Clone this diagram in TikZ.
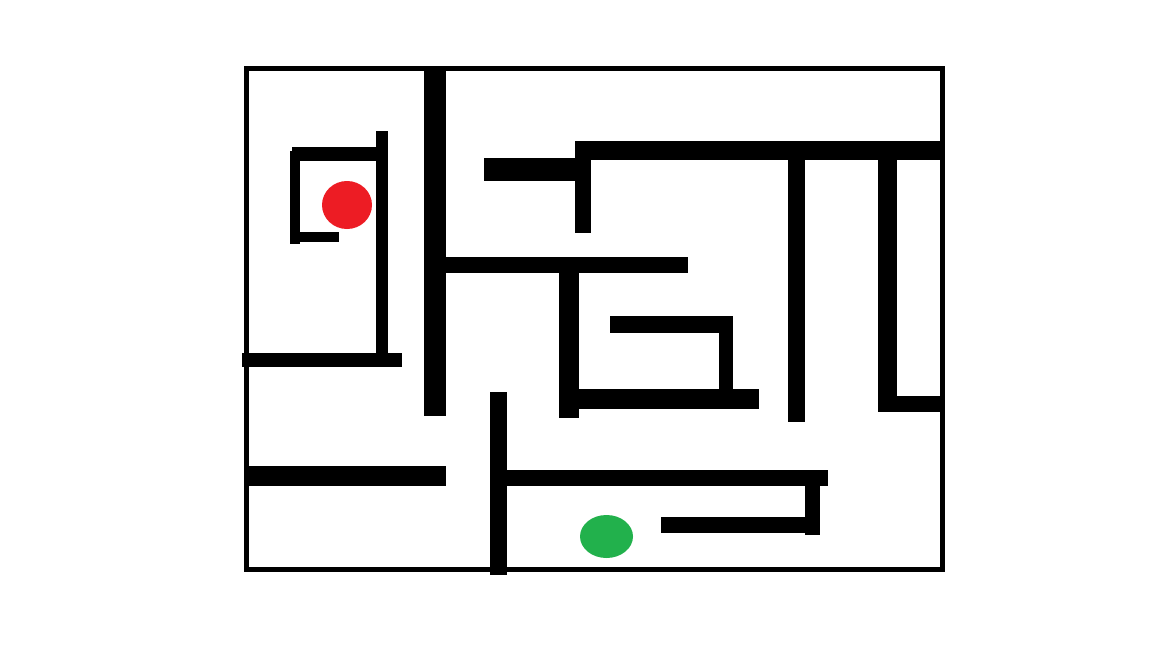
\documentclass[tikz,border=0pt]{standalone}
\definecolor{mazered}{HTML}{ED1C24}
\definecolor{mazegreen}{HTML}{22B14C}
\begin{document}
\begin{tikzpicture}[x=1pt,y=-1pt,
  wall/.style={fill=black,draw=none},
  frame/.style={draw=black,line width=5pt},
  startdot/.style={fill=mazered,draw=none},
  goaldot/.style={fill=mazegreen,draw=none}]
\useasboundingbox[fill=white] (0,0) rectangle (1152,648);
% outer frame
\draw[frame] (246.5,68.5) rectangle (942.5,569.5);
% left region
\fill[wall] (424,68) rectangle (446,416);
\fill[wall] (376,131) rectangle (388,360);
\fill[wall] (292,147) rectangle (380,161);
\fill[wall] (290,151) rectangle (300,244);
\fill[wall] (300,232) rectangle (339,242);
\fill[wall] (242,353) rectangle (402,367);
\fill[wall] (246,466) rectangle (446,486);
% middle top
\fill[wall] (578,141) rectangle (942,160);
\fill[wall] (484,158) rectangle (580,181);
\fill[wall] (575,141) rectangle (591,233);
\fill[wall] (446,257) rectangle (688,273);
\fill[wall] (559,265) rectangle (579,418);
\fill[wall] (579,389) rectangle (759,409);
\fill[wall] (610,316) rectangle (733,333);
\fill[wall] (719,316) rectangle (733,392);
% right
\fill[wall] (788,155) rectangle (805,422);
\fill[wall] (878,155) rectangle (897,411);
\fill[wall] (878,396) rectangle (942,412);
% bottom
\fill[wall] (490,392) rectangle (507,575);
\fill[wall] (507,470) rectangle (828,486);
\fill[wall] (805,480) rectangle (820,535);
\fill[wall] (661,517) rectangle (815,533);
% dots
\fill[startdot] (347,205) ellipse [x radius=25, y radius=24];
\fill[goaldot] (606.5,536.5) ellipse [x radius=26.5, y radius=21.5];
\end{tikzpicture}
\end{document}
